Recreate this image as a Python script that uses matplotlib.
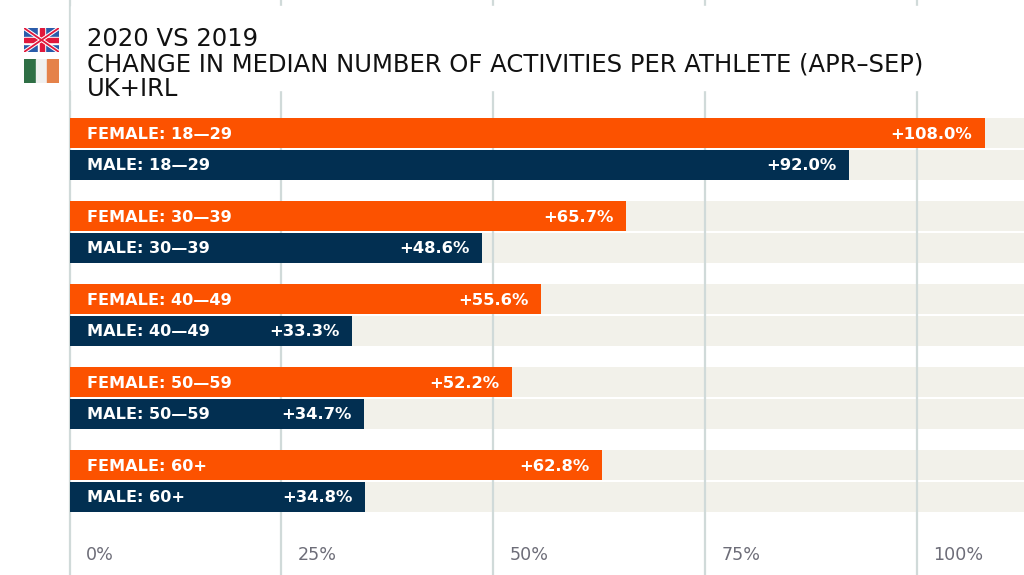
import matplotlib
matplotlib.use("Agg")
import matplotlib.pyplot as plt
from matplotlib.patches import Rectangle

title_lines = ["2020 VS 2019", "CHANGE IN MEDIAN NUMBER OF ACTIVITIES PER ATHLETE (APR\u2013SEP)", "UK+IRL"]
labels = ["FEMALE: 18\u201429", "MALE: 18\u201429", "FEMALE: 30\u201439", "MALE: 30\u201439",
          "FEMALE: 40\u201449", "MALE: 40\u201449", "FEMALE: 50\u201459", "MALE: 50\u201459",
          "FEMALE: 60+", "MALE: 60+"]
values = [108.0, 92.0, 65.7, 48.6, 55.6, 33.3, 52.2, 34.7, 62.8, 34.8]
ticks = [0, 25, 50, 75, 100]
ORANGE, NAVY, BEIGE, GRID = "#fc5200", "#022f51", "#f2f1ea", "#d0dad9"
FONT = "DejaVu Sans"
W, H = 1024, 575
PX = 8.47; X0 = 70

fig = plt.figure(figsize=(W/100, H/100), dpi=100, facecolor="white")
ax = fig.add_axes([0, 0, 1, 1])
ax.set_xlim(-X0/PX, (W-X0)/PX)
ax.set_ylim(H, 0)
ax.axis("off")
dx = 1/PX

for t in ticks:
    ax.axvline(t - 0.5*dx, color=GRID, lw=1.6, zorder=3)
tops = [118 + 83*(i//2) + (32 if i % 2 else 0) for i in range(len(values))]
hts = [30 if i % 2 == 0 else 29.5 for i in range(len(values))]
right = (W-X0)/PX
ax.barh(tops, [right]*10, height=hts, align="edge", color=BEIGE, zorder=2)
ax.barh(tops, values, height=hts, align="edge",
        color=[ORANGE if i % 2 == 0 else NAVY for i in range(10)], zorder=4)
for top, h, lab, v in zip(tops, hts, labels, values):
    ax.text(17*dx, top+h/2-0.4, lab, color="white", fontsize=11.6, fontweight="bold",
            family=FONT, va="center_baseline", ha="left", zorder=7)
    ax.text(v-12.5*dx, top+h/2-0.4, f"+{v:.1f}%", color="white", fontsize=11.8, fontweight="bold",
            family=FONT, va="center_baseline", ha="right", zorder=7)
for t in ticks:
    ax.text(t+16*dx, 553, f"{t}%", color="#6d6d78", fontsize=12.6,
            family=FONT, va="center_baseline", ha="left", zorder=7)

# title background hides the gridlines
ax.add_patch(Rectangle((1*dx, 6), right, 84, color="white", zorder=5))
for y, line in zip([37, 62, 87], title_lines):
    ax.text(17*dx, y, line, color="#111111", fontsize=17.5,
            family=FONT, va="center_baseline", ha="left", zorder=7)

# flags
uk = fig.add_axes([24/W, 1-52/H, 35/W, 24/H]); uk.set_xlim(0, 35); uk.set_ylim(24, 0); uk.axis("off")
uk.add_patch(Rectangle((0, 0), 35, 24, color="#2a5caa"))
uk.plot([0, 35], [0, 24], color="white", lw=2.8, solid_capstyle="butt")
uk.plot([0, 35], [24, 0], color="white", lw=2.8, solid_capstyle="butt")
uk.plot([0, 35], [0, 24], color="#e0183c", lw=1.3, solid_capstyle="butt")
uk.plot([0, 35], [24, 0], color="#e0183c", lw=1.3, solid_capstyle="butt")
uk.add_patch(Rectangle((14, 0), 7, 24, color="white"))
uk.add_patch(Rectangle((0, 8.5), 35, 7, color="white"))
uk.add_patch(Rectangle((15.5, 0), 4, 24, color="#e0183c"))
uk.add_patch(Rectangle((0, 10), 35, 4, color="#e0183c"))

ie = fig.add_axes([24/W, 1-83/H, 35/W, 24/H]); ie.set_xlim(0, 3); ie.set_ylim(0, 1); ie.axis("off")
for i, c in enumerate(["#2f6f45", "#f0f0f0", "#e5824a"]):
    ie.add_patch(Rectangle((i, 0), 1, 1, color=c))

fig.savefig("out.png", dpi=100, facecolor="white")
